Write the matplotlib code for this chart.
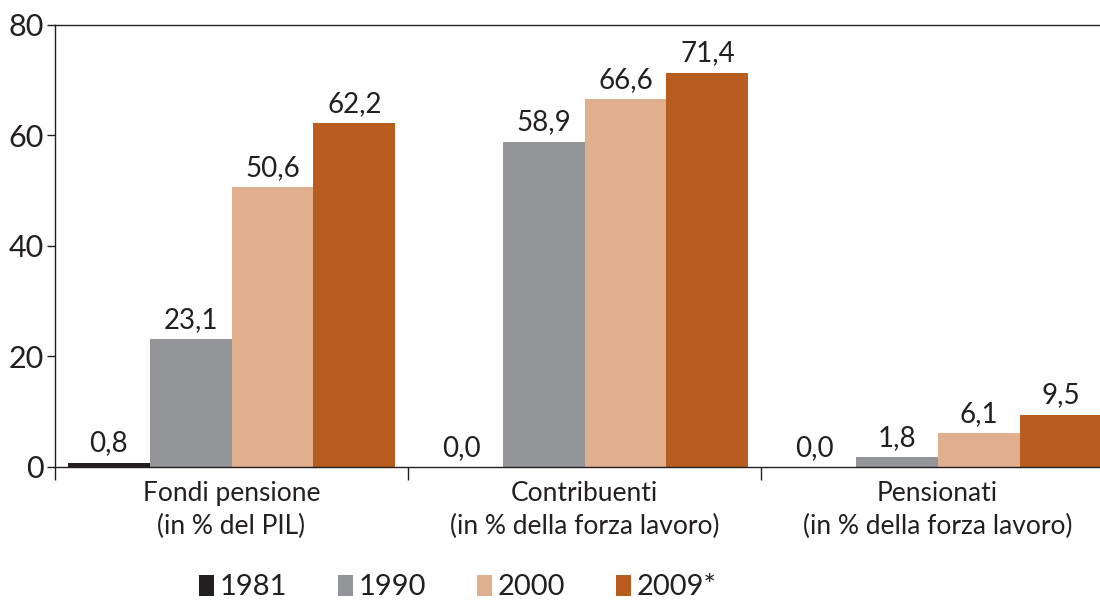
import numpy as np
import matplotlib
matplotlib.use("Agg")
import matplotlib.pyplot as plt
from matplotlib.patches import Patch

plt.rcParams["font.family"] = ["Lato", "DejaVu Sans"]

categories = ["Fondi pensione\n(in % del PIL)",
              "Contribuenti\n(in % della forza lavoro)",
              "Pensionati\n(in % della forza lavoro)"]
years = ["1981", "1990", "2000", "2009*"]
val_1981 = [0.8, 0.0, 0.0]
val_1990 = [23.1, 58.9, 1.8]
val_2000 = [50.6, 66.6, 6.1]
val_2009 = [62.2, 71.4, 9.5]
series = [val_1981, val_1990, val_2000, val_2009]
colors = ["#231f20", "#939598", "#e0b08e", "#b85c1f"]
ink = "#231f20"

fig = plt.figure(figsize=(11, 6.05), dpi=100)
ax = fig.add_axes([0.05, 0.2281, 0.95, 0.7306])

x = np.arange(len(categories))
width = 0.232
offsets = [-1.5 * width, -0.5 * width, 0.5 * width, 1.5 * width]

for vals, off, col, yr in zip(series, offsets, colors, years):
    bars = ax.bar(x + off, vals, width, color=col, label=yr, zorder=2)
    for b, v in zip(bars, vals):
        ax.text(b.get_x() + b.get_width() / 2, v + 2.0,
                f"{v:.1f}".replace(".", ","),
                ha="center", va="baseline", fontsize=20, color=ink)

ax.set_xlim(-0.5, 2.46)
ax.set_ylim(0, 80)
ax.set_yticks([0, 20, 40, 60, 80])
ax.tick_params(axis="y", labelsize=22, colors=ink, length=6, width=1, pad=2)

ax.set_xticks(x)
ax.set_xticklabels(categories, fontsize=19, color=ink, linespacing=1.38)
ax.tick_params(axis="x", which="major", length=0, pad=10)
ax.set_xticks([-0.5, 0.5, 1.5], minor=True)
ax.tick_params(axis="x", which="minor", length=9, width=1, color=ink, direction="out")

for side in ["left", "bottom", "top"]:
    ax.spines[side].set_color(ink)
    ax.spines[side].set_linewidth(1.0)
ax.spines["right"].set_visible(False)

handles = [Patch(facecolor=c, edgecolor="none") for c in colors]
fig.legend(handles, years, loc="center left", bbox_to_anchor=(0.181, 0.029),
           ncol=4, frameon=False, borderpad=0, borderaxespad=0,
           fontsize=21, handlelength=0.5, handleheight=0.75,
           handletextpad=0.2, columnspacing=1.75, labelcolor=ink)

fig.savefig("out.png", dpi=100)
